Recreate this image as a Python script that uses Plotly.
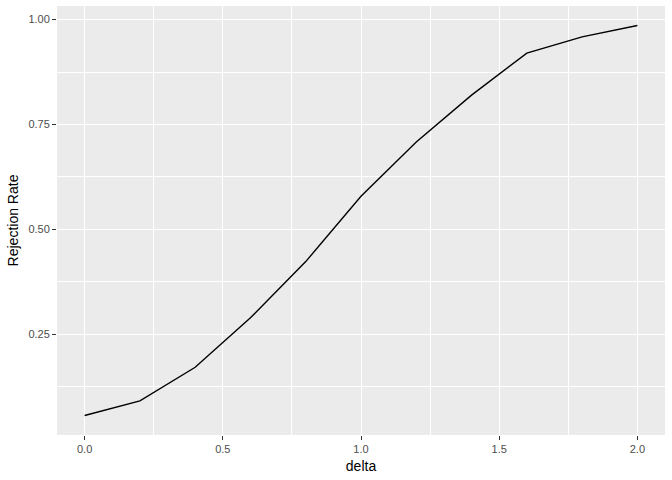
import plotly.graph_objects as go

delta = [0.0, 0.2, 0.4, 0.6, 0.8, 1.0, 1.2, 1.4, 1.6, 1.8, 2.0]
rejection_rate = [0.056, 0.091, 0.171, 0.289, 0.423, 0.579, 0.708, 0.820, 0.920, 0.959, 0.986]

x_ticks = [0.0, 0.5, 1.0, 1.5, 2.0]
x_tick_labels = ["0.0", "0.5", "1.0", "1.5", "2.0"]
y_ticks = [0.25, 0.50, 0.75, 1.00]
y_tick_labels = ["0.25", "0.50", "0.75", "1.00"]
x_minor = [0.25, 0.75, 1.25, 1.75]
y_minor = [0.125, 0.375, 0.625, 0.875]

fig = go.Figure()
fig.add_trace(go.Scatter(x=delta, y=rejection_rate, mode="lines",
                         line=dict(color="black", width=1.4), showlegend=False))

xr = [min(delta) - 0.05 * (max(delta) - min(delta)), max(delta) + 0.05 * (max(delta) - min(delta))]
yr = [min(rejection_rate) - 0.05 * (max(rejection_rate) - min(rejection_rate)),
      max(rejection_rate) + 0.05 * (max(rejection_rate) - min(rejection_rate))]

font = "Liberation Sans, Arial, sans-serif"
fig.update_layout(
    width=672, height=480,
    margin=dict(l=57, r=7, t=6, b=45, pad=0),
    paper_bgcolor="white", plot_bgcolor="#EBEBEB",
    font=dict(family=font, color="black"),
    xaxis=dict(range=xr, tickvals=x_ticks, ticktext=x_tick_labels, automargin=False,
               showgrid=True, gridcolor="white", gridwidth=1.1,
               zeroline=False, showline=False,
               ticks="outside", ticklen=4, tickwidth=1, tickcolor="#333333",
               tickfont=dict(size=11, color="#4D4D4D", family=font),
               title=dict(text="delta", font=dict(size=14, color="black", family=font), standoff=6),
               minor=dict(tickvals=x_minor, showgrid=True, gridcolor="white", gridwidth=0.5, ticks="")),
    yaxis=dict(range=yr, tickvals=y_ticks, ticktext=y_tick_labels, automargin=False,
               showgrid=True, gridcolor="white", gridwidth=1.1,
               zeroline=False, showline=False,
               ticks="outside", ticklen=4, tickwidth=1, tickcolor="#333333",
               tickfont=dict(size=11, color="#4D4D4D", family=font),
               title=dict(text="Rejection Rate", font=dict(size=14, color="black", family=font), standoff=6),
               minor=dict(tickvals=y_minor, showgrid=True, gridcolor="white", gridwidth=0.5, ticks="")),
)

fig.write_html("out.html", config={"displayModeBar": False},
               post_script="document.body.style.margin='0';document.body.style.overflow='hidden';")
